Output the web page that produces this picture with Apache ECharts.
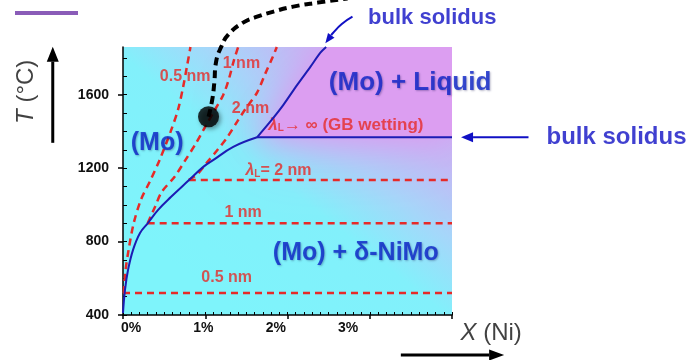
<!DOCTYPE html>
<html>
<head>
<meta charset="utf-8">
<script src="https://cdn.jsdelivr.net/npm/echarts@6/dist/echarts.min.js"></script>
<style>
  html, body { margin: 0; padding: 0; background: #ffffff; }
  #chart { width: 700px; height: 360px; }
</style>
</head>
<body>
<div id="chart"></div>
<script>
// Axis ticks and labels (X in at.% Ni, T in °C)
const xTickValues = [0, 1, 2, 3, 4];
const xLabelValues = [0, 1, 2, 3];
const yTickValues = [400, 800, 1200, 1600];

// Bulk solidus of the Mo-rich side
const solidusLower = [[0, 411], [0.024, 536], [0.061, 645], [0.122, 755], [0.207, 847], [0.305, 902],
  [0.427, 973], [0.585, 1044], [0.793, 1131], [0.976, 1207], [1.10, 1245], [1.34, 1316], [1.63, 1368]];
const solidusUpper = [[1.63, 1368], [1.79, 1453], [1.95, 1545], [2.12, 1655], [2.28, 1753], [2.40, 1829], [2.47, 1860]];
const solidusFlat = [[1.63, 1368], [4, 1368]];

// Constant grain-boundary film thickness lines (lambda_L)
const film05Flat = [[0, 520], [4, 520]];
const film1Flat = [[0.30, 900], [4, 900]];
const film2Flat = [[0.80, 1136], [4, 1136]];
const film05Diag = [[0.01, 520], [0.03, 640], [0.07, 760], [0.13, 900], [0.22, 1030], [0.33, 1130],
  [0.45, 1250], [0.58, 1400], [0.67, 1520], [0.73, 1640], [0.78, 1760], [0.82, 1860]];
const film1Diag = [[0.30, 900], [0.39, 990], [0.47, 1070], [0.63, 1155], [0.76, 1245], [0.88, 1330],
  [0.98, 1410], [1.10, 1505], [1.22, 1600], [1.29, 1690], [1.35, 1790], [1.40, 1860]];
const film2Diag = [[0.80, 1136], [0.90, 1165], [1.02, 1230], [1.15, 1300], [1.27, 1370], [1.40, 1462],
  [1.50, 1530], [1.63, 1612], [1.73, 1715], [1.82, 1805], [1.87, 1860]];

// Sample condition and its leader line to the inset
const samplePoint = [[1.04, 1480]];
const sampleLeader = [[1.04, 1480], [1.085, 1573], [1.11, 1665], [1.13, 1775], [1.195, 1862], [1.28, 1927],
  [1.46, 1993], [1.63, 2025], [1.83, 2053], [2.07, 2080], [2.37, 2102], [2.73, 2124]];

// Liquid + (Mo) two-phase field outline
const liquidField = [...solidusUpper, [4, 1860], [4, 1368]];

// Text annotations: [text, x, T, font size]
const phaseLabels = [['(Mo)', 0.415, 1338, 25], ['(Mo) + Liquid', 3.49, 1665, 26], ['(Mo) + δ-NiMo', 2.83, 738, 25]];
const filmLabels = [
  ['{i|λ}{s|L}→ ∞ (GB wetting)', 2.71, 1436, 17],
  ['{i|λ}{s|L}= 2 nm', 1.89, 1185, 16],
  ['1 nm', 1.46, 956, 16],
  ['0.5 nm', 1.26, 602, 16],
  ['0.5 nm', 0.756, 1698, 16],
  ['1 nm', 1.44, 1769, 16],
  ['2 nm', 1.55, 1524, 16]
];
const solidusNotes = [['bulk solidus', 3.76, 2020, 22], ['bulk solidus', 6.0, 1368, 24]];
const axisTitles = [['{i|X} (Ni)', 4.476, 302, 0], ['{i|T} (°C)', -1.18, 1616, 90]];

// Arrows, each given as a path ending at the arrow tip
const tArrow = [[-0.854, 1338], [-0.854, 1862]];
const xArrow = [[3.378, 182], [4.634, 182]];
const solidusArrowRight = [[4.93, 1368], [4.11, 1368]];
const solidusArrowTop = [[2.79, 2025], [2.66, 1985], [2.55, 1935], [2.46, 1880]];

const FONT = '"Liberation Sans", Arial, Helvetica, sans-serif';
const RED = '#e62a28';
const BLUE_LINE = '#1c1cb4';
const BLUE_TEXT = '#0c24c8';
const NOTE_BLUE = '#1010c4';

const minorX = [];
for (let v = 0; v <= 40; v++) minorX.push(v / 10);
const minorY = [];
for (let v = 400; v <= 1800; v += 100) minorY.push(v);

function curve(data, color, width, dash, smooth) {
  return {
    type: 'line', data, symbol: 'none', smooth: smooth, clip: false, silent: true,
    lineStyle: { color, width, type: dash || 'solid', cap: 'butt' }, z: 4
  };
}

// Arrow drawn as a polyline plus a filled head, placed through the axes' scales
function arrow(points, color, width, headLen, headWidth, smooth) {
  return {
    type: 'custom', clip: false, silent: true, z: 6,
    data: [points[0]],
    renderItem: (params, api) => {
      const pts = points.map(p => api.coord(p));
      const n = pts.length;
      const tip = pts[n - 1], prev = pts[n - 2];
      const dx = tip[0] - prev[0], dy = tip[1] - prev[1];
      const len = Math.hypot(dx, dy) || 1;
      const ux = dx / len, uy = dy / len;
      const base = [tip[0] - ux * headLen, tip[1] - uy * headLen];
      const left = [base[0] - uy * headWidth / 2, base[1] + ux * headWidth / 2];
      const right = [base[0] + uy * headWidth / 2, base[1] - ux * headWidth / 2];
      return {
        type: 'group',
        children: [
          { type: 'polyline', shape: { points: pts.slice(0, n - 1).concat([base]), smooth: smooth || 0 },
            style: { stroke: color, lineWidth: width, fill: null } },
          { type: 'polygon', shape: { points: [tip, left, right] }, style: { fill: color } }
        ]
      };
    }
  };
}

function textSeries(items, style, z) {
  return {
    type: 'scatter', clip: false, silent: true, symbolSize: 1, z: z || 5,
    itemStyle: { color: 'rgba(0,0,0,0)' },
    data: items.map(t => {
      const extra = {};
      if (t.length > 3 && style.sizeFromData) {
        extra.fontSize = t[3];
        if (style.rich && style.rich.i) extra.rich = Object.assign({}, style.rich, { i: Object.assign({}, style.rich.i, { fontSize: t[3] }) });
      }
      if (t.length > 3 && style.rotateFromData) extra.rotate = t[3];
      return {
        name: t[0], value: [t[1], t[2]],
        label: Object.assign({ show: true, position: 'inside', formatter: '{b}' }, style, extra)
      };
    })
  };
}

const chart = echarts.init(document.getElementById('chart'), null, { renderer: 'canvas' });

const liquidFill = '#dc9ef1';

chart.setOption({
  animation: false,
  backgroundColor: '#ffffff',
  graphic: [
    { type: 'rect', shape: { x: 15, y: 11, width: 63, height: 4 }, style: { fill: '#8a5cb8' } }
  ],
  grid: {
    left: 123, top: 47, width: 329, height: 268, show: true, borderWidth: 0,
    backgroundColor: {
      type: 'linear', x: 0.35, y: 1, x2: 1, y2: 0,
      colorStops: [
        { offset: 0, color: '#7ef4fb' },
        { offset: 0.38, color: '#82f0fb' },
        { offset: 0.56, color: '#a6d6fa' },
        { offset: 0.72, color: '#c0bcf6' },
        { offset: 1, color: '#d4a6f3' }
      ]
    }
  },
  xAxis: [
    {
      type: 'value', min: 0, max: 4, position: 'bottom',
      axisLine: { show: true, lineStyle: { color: '#000', width: 1.5 } },
      axisTick: { show: true, customValues: xTickValues, inside: false, length: 4, lineStyle: { color: '#000', width: 1.5 } },
      axisLabel: { show: false }, splitLine: { show: false }
    },
    {
      type: 'value', min: 0, max: 4, position: 'bottom', offset: 0,
      axisLine: { show: false },
      axisTick: { show: true, customValues: minorX, inside: true, length: 3, lineStyle: { color: '#000', width: 1 } },
      axisLabel: { show: false }, splitLine: { show: false }
    },
    {
      type: 'value', min: -0.1105, max: 4.434, position: 'bottom', offset: 0,
      axisLine: { show: false }, axisTick: { show: false }, splitLine: { show: false },
      axisLabel: {
        show: true, customValues: xLabelValues, formatter: '{value}%', margin: 6,
        color: '#111', fontFamily: FONT, fontSize: 14, fontWeight: 'bold'
      }
    }
  ],
  yAxis: [
    {
      type: 'value', min: 400, max: 1860, position: 'left',
      axisLine: { show: true, lineStyle: { color: '#000', width: 1.5 } },
      axisTick: { show: true, customValues: yTickValues, inside: false, length: 5, lineStyle: { color: '#000', width: 1.5 } },
      axisLabel: {
        show: true, customValues: yTickValues, margin: 14, formatter: v => String(v),
        color: '#111', fontFamily: FONT, fontSize: 14, fontWeight: 'bold'
      },
      splitLine: { show: false }
    },
    {
      type: 'value', min: 400, max: 1860, position: 'left', offset: 0,
      axisLine: { show: false },
      axisTick: { show: true, customValues: minorY, inside: true, length: 4, lineStyle: { color: '#000', width: 1 } },
      axisLabel: { show: false }, splitLine: { show: false }
    }
  ],
  series: [
    {
      type: 'custom', clip: true, silent: true, z: 1,
      data: liquidField,
      renderItem: (params, api) => {
        if (params.dataIndex !== 0) return null;
        const pts = liquidField.map(p => api.coord(p));
        return {
          type: 'group',
          children: [
            { type: 'polygon', shape: { points: pts },
              style: { fill: liquidFill, shadowBlur: 70, shadowColor: 'rgba(214,160,242,1)' } },
            { type: 'polygon', shape: { points: pts },
              style: { fill: liquidFill, shadowBlur: 30, shadowColor: 'rgba(218,158,241,1)' } }
          ]
        };
      }
    },
    curve(film05Flat, RED, 2.5, [7, 5], false),
    curve(film1Flat, RED, 2.5, [7, 5], false),
    curve(film2Flat, RED, 2.5, [7, 5], false),
    curve(film05Diag, RED, 2.5, [7, 5], 0.3),
    curve(film1Diag, RED, 2.5, [7, 5], 0.3),
    curve(film2Diag, RED, 2.5, [7, 5], 0.3),
    curve(solidusLower, BLUE_LINE, 2, 'solid', 0.4),
    curve(solidusUpper, BLUE_LINE, 2, 'solid', 0.3),
    curve(solidusFlat, BLUE_LINE, 2, 'solid', false),
    Object.assign(curve(sampleLeader, '#000', 4, [8, 5], 0.5), { z: 7 }),
    {
      type: 'scatter', data: samplePoint, symbolSize: 21, clip: false, silent: true, z: 8,
      itemStyle: { color: '#000', shadowBlur: 4, shadowColor: 'rgba(0,0,0,0.45)', shadowOffsetX: 2, shadowOffsetY: 2 }
    },
    arrow(tArrow, '#000', 3, 15, 12),
    arrow(xArrow, '#000', 3, 15, 11),
    arrow(solidusArrowRight, NOTE_BLUE, 2, 12, 10),
    arrow(solidusArrowTop, NOTE_BLUE, 2, 10, 8, 0.5),
    textSeries(phaseLabels, {
      color: BLUE_TEXT, fontFamily: FONT, fontWeight: 'bold', sizeFromData: true,
      textShadowColor: 'rgba(0,0,60,0.35)', textShadowBlur: 2, textShadowOffsetX: 1, textShadowOffsetY: 1
    }),
    textSeries(filmLabels, {
      color: RED, fontFamily: FONT, fontWeight: 'bold', sizeFromData: true,
      rich: {
        i: { color: RED, fontFamily: FONT, fontSize: 16, fontStyle: 'italic' },
        s: { color: RED, fontFamily: FONT, fontSize: 10, fontWeight: 'bold', verticalAlign: 'bottom', padding: [6, 0, 0, 0] }
      }
    }, 3),
    textSeries(solidusNotes, {
      color: NOTE_BLUE, fontFamily: FONT, fontWeight: 'bold', sizeFromData: true
    }),
    textSeries(axisTitles, {
      color: '#111', fontFamily: FONT, fontSize: 24, rotateFromData: true,
      rich: { i: { color: '#111', fontFamily: FONT, fontSize: 24, fontStyle: 'italic' } }
    })
  ]
});
</script>
</body>
</html>
